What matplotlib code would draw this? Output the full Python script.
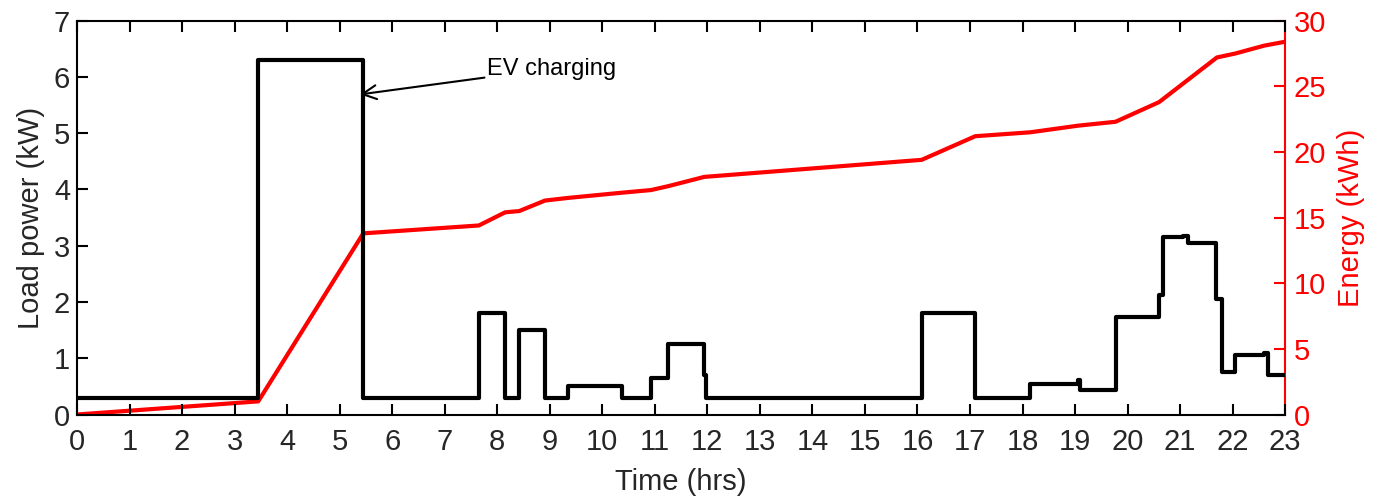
import matplotlib
matplotlib.use("Agg")
import matplotlib.pyplot as plt

plt.rcParams['font.family'] = ['Liberation Sans', 'DejaVu Sans']

# Load power step profile (kW), value holds from each time until the next
load_t = [0, 3.45, 5.45, 7.65, 8.15, 8.42, 8.91, 9.35, 10.38, 10.93, 11.26, 11.94, 11.98,
          16.08, 17.1, 18.15, 19.05, 19.1, 19.77, 20.6, 20.67, 21.05, 21.15, 21.68, 21.8,
          22.05, 22.6, 22.68, 23.0]
load_p = [0.3, 6.3, 0.3, 1.8, 0.3, 1.5, 0.3, 0.5, 0.3, 0.65, 1.25, 0.7, 0.3,
          1.8, 0.3, 0.55, 0.62, 0.43, 1.74, 2.12, 3.15, 3.18, 3.05, 2.05, 0.75,
          1.05, 1.1, 0.7, 0.7]

# Cumulative energy (kWh)
energy_t = [0, 3.45, 5.45, 7.65, 8.15, 8.42, 8.91, 9.35, 10.38, 10.93, 11.26, 11.94,
            16.08, 17.1, 18.15, 19.05, 19.77, 20.6, 21.7, 22.05, 22.6, 23.0]
energy_e = [0, 1.0, 13.8, 14.4, 15.4, 15.5, 16.3, 16.5, 16.9, 17.1, 17.4, 18.1,
            19.4, 21.2, 21.5, 22.0, 22.3, 23.8, 27.2, 27.5, 28.1, 28.4]

x_ticks = list(range(0, 24))
y_ticks = list(range(0, 8))
e_ticks = [0, 5, 10, 15, 20, 25, 30]

fig = plt.figure(figsize=(13.9, 5.0), dpi=100)
ax = fig.add_axes([0.0554, 0.171, 0.8692, 0.7876])
ax2 = ax.twinx()

ax.plot(load_t, load_p, drawstyle='steps-post', color='black', lw=3.0, zorder=3)
ax2.plot(energy_t, energy_e, color='red', lw=3.0)
ax.set_zorder(ax2.get_zorder() + 1)
ax.patch.set_visible(False)

ax.set_xlim(0, 23)
ax.set_ylim(0, 7)
ax2.set_ylim(0, 30)
ax.set_xticks(x_ticks)
ax.set_yticks(y_ticks)
ax2.set_yticks(e_ticks)

fs = 21
tc = '#262626'
ax.tick_params(axis='both', direction='in', length=8, width=1.5, labelsize=fs, pad=5,
               labelcolor=tc)
ax.tick_params(axis='x', top=True, pad=10)
ax.tick_params(axis='y', right=False)
ax2.tick_params(axis='y', direction='in', length=8, width=1.5, labelsize=fs,
                colors='red', pad=6)

for s in ['left', 'bottom', 'top']:
    ax.spines[s].set_linewidth(1.5)
ax.spines['right'].set_visible(False)
ax2.spines['right'].set_color('red')
ax2.spines['right'].set_linewidth(1.5)
for s in ['left', 'bottom', 'top']:
    ax2.spines[s].set_visible(False)

ax.set_xlabel('Time (hrs)', fontsize=fs, labelpad=8, color=tc)
ax.set_ylabel('Load power (kW)', fontsize=fs, labelpad=6, color=tc)
ax2.set_ylabel('Energy (kWh)', fontsize=fs, color='red', labelpad=8)

ax.annotate('EV charging', xy=(5.39, 5.69), xytext=(7.81, 6.15),
            fontsize=17, va='center', ha='left',
            arrowprops=dict(arrowstyle='->', color='black', lw=1.5,
                            mutation_scale=25, shrinkA=0, shrinkB=0))

fig.savefig('out.png', dpi=100)
